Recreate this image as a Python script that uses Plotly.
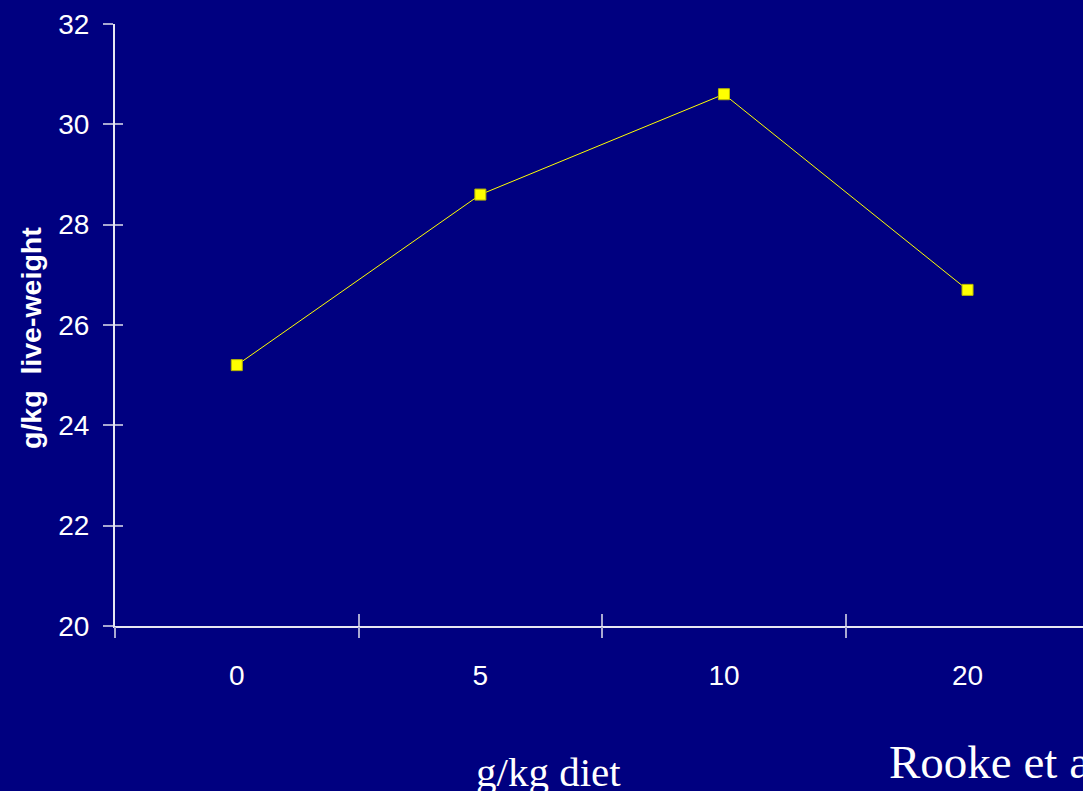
import plotly.graph_objects as go

categories = ["0", "5", "10", "20"]
values = [25.2, 28.6, 30.6, 26.7]
y_ticks = [20, 22, 24, 26, 28, 30, 32]
x_title = "g/kg diet"
y_title = "g/kg\u00a0\u00a0live-weight"
source = "Rooke et al."

BG = "#000080"
AXIS = "#e6e6f2"
TICK = "#a9a9d2"
xr = [-0.5, 3.474]
yr = [20, 32]
xs = list(range(len(categories)))
bounds = [i - 0.5 for i in xs]

fig = go.Figure()
# invisible helper traces so the overlay tick axes are drawn
for xa, ya in [("x2", "y"), ("x3", "y"), ("x", "y2")]:
    fig.add_trace(go.Scatter(x=xs, y=values, xaxis=xa, yaxis=ya, mode="markers",
                             marker=dict(opacity=0), hoverinfo="skip", showlegend=False))
fig.add_trace(go.Scatter(
    x=xs, y=values, mode="lines+markers",
    line=dict(color="#ffff00", width=1),
    marker=dict(symbol="square", size=11, color="#ffff00",
                line=dict(color="#b8b800", width=1)),
    cliponaxis=False, showlegend=False,
))

common_x = dict(range=xr, showgrid=False, zeroline=False, fixedrange=True)
common_y = dict(range=yr, showgrid=False, zeroline=False, fixedrange=True)

fig.update_layout(
    width=1083, height=791,
    paper_bgcolor=BG, plot_bgcolor=BG,
    margin=dict(l=115, r=0, t=24, b=165),
    xaxis=dict(**common_x, tickmode="array", tickvals=xs,
               ticktext=categories, ticks="", showline=True, linecolor=AXIS, linewidth=2,
               tickfont=dict(family="Liberation Sans, Arial", size=28, color="white"),
               ticklabelstandoff=23),
    xaxis2=dict(**common_x, overlaying="x", anchor="y", side="bottom",
                tickmode="array", tickvals=bounds, ticks="outside", ticklen=11,
                tickwidth=2, tickcolor=TICK, showticklabels=False, showline=False),
    xaxis3=dict(**common_x, overlaying="x", anchor="y", side="bottom",
                tickmode="array", tickvals=bounds[1:], ticks="inside", ticklen=12,
                tickwidth=2, tickcolor=TICK, showticklabels=False, showline=False),
    yaxis=dict(**common_y, tickmode="array", tickvals=y_ticks, ticks="outside",
               ticklen=10, tickwidth=2, tickcolor=TICK, showline=True,
               linecolor=AXIS, linewidth=2,
               tickfont=dict(family="Liberation Sans, Arial", size=28, color="white"),
               ticklabelstandoff=8),
    yaxis2=dict(**common_y, overlaying="y", anchor="x", side="left",
                tickmode="array", tickvals=y_ticks, ticks="inside", ticklen=8,
                tickwidth=2, tickcolor=TICK, showticklabels=False, showline=False),
)

fig.add_annotation(text=f"<b>{y_title}</b>", xref="paper", yref="paper",
                   x=-84 / 968, y=(626 - 338) / 602, xanchor="center", yanchor="middle",
                   textangle=-90, showarrow=False,
                   font=dict(family="Liberation Sans, Arial", size=28.5, color="white"))
fig.add_annotation(text=x_title, xref="paper", yref="paper",
                   x=(548 - 115) / 968, y=-(772 - 626) / 602, xanchor="center",
                   yanchor="middle", showarrow=False,
                   font=dict(family="Liberation Serif, Times New Roman", size=41, color="white"))
fig.add_annotation(text=source, xref="paper", yref="paper",
                   x=(887 - 115) / 968, y=-(762 - 626) / 602, xanchor="left",
                   yanchor="middle", showarrow=False,
                   font=dict(family="Liberation Serif, Times New Roman", size=47, color="white"))

fig.write_html("out.html", config={"displayModeBar": False},
               post_script="document.body.style.margin='0';")
